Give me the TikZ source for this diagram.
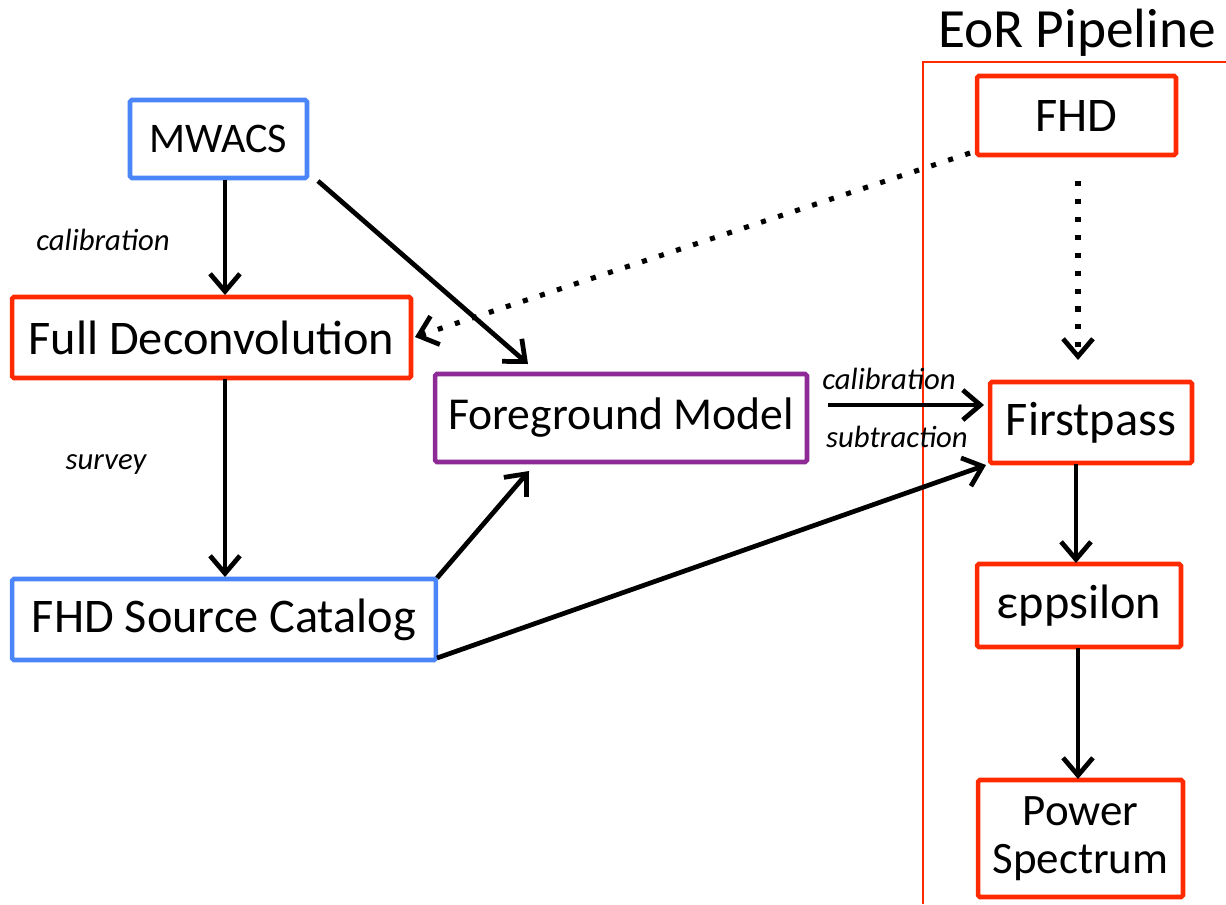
\documentclass[tikz,border=0pt]{standalone}
\usepackage{fontspec}
\setmainfont{Carlito}
\usetikzlibrary{arrows.meta}
\definecolor{boxred}{HTML}{FF2A00}
\definecolor{boxblue}{HTML}{4A86F7}
\definecolor{boxpurple}{HTML}{8E2A96}
\tikzset{
  box/.style={draw, line width=2.6pt, rectangle, rounded corners=1pt, inner sep=0pt, align=center, font=\fontsize{27.5}{27.5}\selectfont},
  redbox/.style={box, draw=boxred},
  bluebox/.style={box, draw=boxblue},
  purplebox/.style={box, draw=boxpurple},
  conn/.style={line width=2.7pt, -{Straight Barb[length=10pt,width=17pt,line width=2.7pt]}},
  dotconn/.style={conn, line width=2.9pt, dash pattern=on 2.9pt off 7.3pt},
  lab/.style={font=\fontsize{17.5}{20}\selectfont\itshape, inner sep=0pt},
}
\begin{document}
\begin{tikzpicture}[x=0.02cm,y=-0.02cm]
\useasboundingbox (0,0) rectangle (1226,904);
% EoR pipeline frame
\draw[boxred, line width=0.6pt] (923,904) -- (923,62) -- (1226,62);
\node[font=\fontsize{31.5}{35}\selectfont, inner sep=0pt] (title) at (1077,33) {EoR Pipeline};
% boxes
\node[redbox, minimum width=3.98cm, minimum height=1.58cm] (fhd) at (1076.5,115.5) {FHD};
\node[redbox, minimum width=4.04cm, minimum height=1.62cm] (first) at (1091,422.5) {Firstpass};
\node[redbox, minimum width=4.08cm, minimum height=1.66cm] (eps) at (1079,605.5) {εppsilon};
\node[redbox, minimum width=4.10cm, minimum height=2.34cm, font=\fontsize{25.6}{27}\selectfont] (power) at (1080.5,838.5) {Power\\Spectrum};
\node[bluebox, minimum width=3.54cm, minimum height=1.56cm, font=\fontsize{24}{27}\selectfont] (mwacs) at (218.5,139) {MWACS};
\node[redbox, minimum width=7.98cm, minimum height=1.62cm] (full) at (211.5,337.5) {Full Deconvolution};
\node[purplebox, minimum width=7.44cm, minimum height=1.76cm, font=\fontsize{26}{28}\selectfont] (fg) at (621,418) {Foreground Model};
\node[bluebox, minimum width=8.48cm, minimum height=1.62cm] (cat) at (224,619.5) {FHD Source Catalog};
% labels
\node[lab] (lcal) at (103,240) {calibration};
\node[lab] (lsurv) at (106,465) {survey};
\node[lab] (lcal2) at (889,379) {calibration};
\node[lab] (lsub) at (897,437) {subtraction};
% helper coordinates
\coordinate (mwS) at (225,180);
\coordinate (fullN) at (225,295);
\coordinate (fullS) at (225,379);
\coordinate (catN) at (225,577);
\coordinate (mwSE) at (318,181);
\coordinate (fgNW) at (528,364);
\coordinate (catNE) at (437,578);
\coordinate (fgS) at (529,471);
\coordinate (catSE) at (437,658);
\coordinate (firstSW) at (986,465);
\coordinate (fgE) at (828,405);
\coordinate (firstW) at (984,405);
\coordinate (fhdS) at (1078,181);
\coordinate (firstN) at (1078,360);
\coordinate (fhdSW) at (970,153);
\coordinate (fullE) at (415,337);
\coordinate (firstS) at (1076,464);
\coordinate (epsN) at (1076,563);
\coordinate (epsS) at (1078,648);
\coordinate (powN) at (1078,779);
% connectors
\draw[conn] (mwS) -- (fullN);
\draw[conn] (fullS) -- (catN);
\draw[conn] (mwSE) -- (fgNW);
\draw[conn] (catNE) -- (fgS);
\draw[conn] (catSE) -- (firstSW);
\draw[conn] (fgE) -- (firstW);
\draw[dotconn] (fhdS) -- (firstN);
\draw[dotconn] (fhdSW) -- (fullE);
\draw[conn] (firstS) -- (epsN);
\draw[conn] (epsS) -- (powN);
\end{tikzpicture}
\end{document}
